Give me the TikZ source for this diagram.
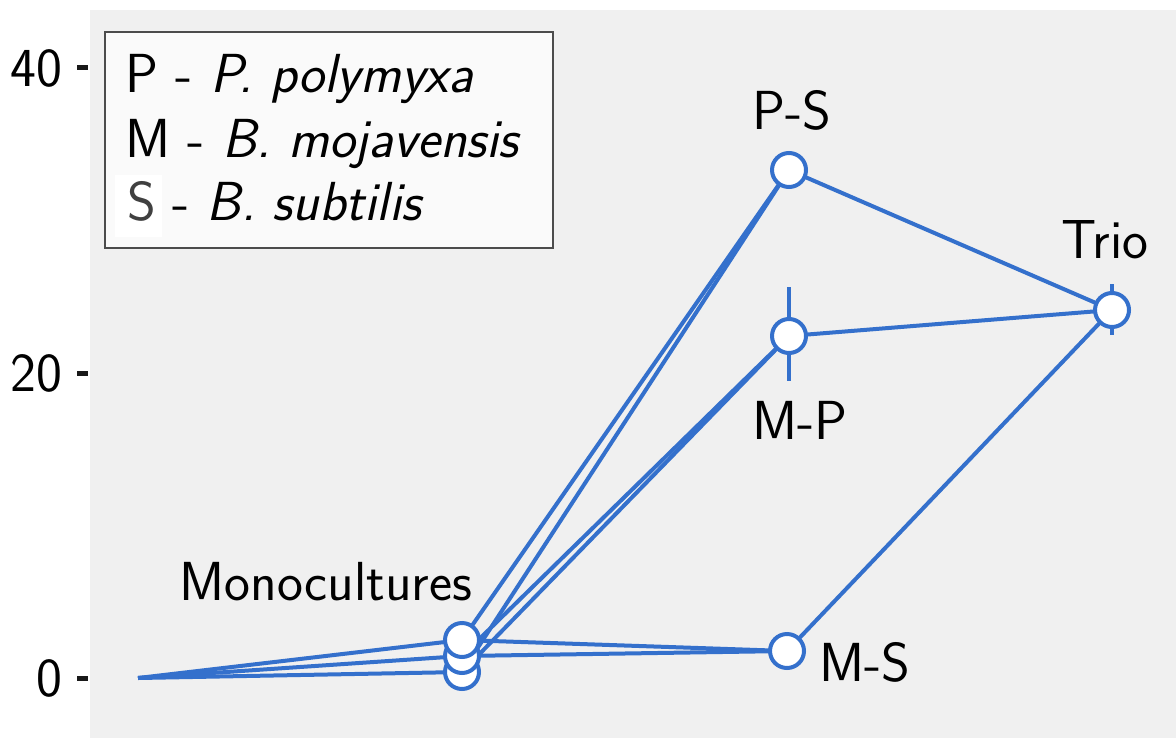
\documentclass[tikz,border=0pt]{standalone}
\usepackage{fontspec}
\usepackage{tikz}
\usetikzlibrary{backgrounds}
\definecolor{lineblue}{RGB}{52,112,204}
\definecolor{panelgray}{RGB}{240,240,240}

\begin{document}
\begin{tikzpicture}[
  x=0.5pt, y=-0.5pt, font=\sffamily\fontsize{27.5}{33}\selectfont,
  pt/.style={circle, draw=lineblue, line width=2pt, fill=white,
             minimum size=17pt, inner sep=0pt},
  ln/.style={lineblue, line width=2pt},
  lbl/.style={inner sep=0pt},
  tickmark/.style={line width=2.5pt, black!90}]
  \useasboundingbox (0,0) rectangle (1176,738);
  % y axis
  \foreach \v/\yy in {0/678, 20/373, 40/68} {
    \draw[tickmark] (77,\yy) -- (88,\yy);
    \node[lbl, anchor=east] (t\v) at (63,\yy) {\v};
  }
  % points
  \coordinate (o) at (138,678);
  \node[pt] (mP) at (462,672) {};
  \node[pt] (mM) at (462,656) {};
  \node[pt] (mS) at (462,640) {};
  \node[pt] (ps) at (789,170) {};
  \node[pt] (mp) at (789,336) {};
  \node[pt] (ms) at (787,651) {};
  \node[pt] (trio) at (1112,310) {};
  % labels
  \node[lbl] (lmono) at (326,582) {Monocultures};
  \node[lbl] (lps) at (792,110) {P-S};
  \node[lbl] (lmp) at (800,420) {M-P};
  \node[lbl] (lms) at (865,662) {M-S};
  \node[lbl] (ltrio) at (1105,240) {Trio};
  % legend
  \node[draw=black!70, fill=black!2, line width=1pt, minimum width=224pt,
        minimum height=108pt] (leg) at (329,140) {};
  \node[lbl, anchor=base west] (lgP) at (125,92) {P - \textit{P. polymyxa}};
  \node[lbl, anchor=base west] (lgM) at (125,157) {M - \textit{B. mojavensis}};
  \node[fill=white, minimum width=23.5pt, minimum height=31pt, inner sep=0pt] (sbg) at (138.5,206) {};
  \node[lbl, anchor=base, text=black!75] (lgS) at (142,220) {S};
  \node[lbl, anchor=base west] (lgS2) at (172,220) {- \textit{B. subtilis}};
  % panel, lines and error bars behind the points
  \begin{pgfonlayer}{background}
    \fill[panelgray] (90,10) rectangle (1176,738);
    \draw[ln] (mp.center) ++(0,-49) -- ++(0,94);
    \draw[ln] (trio.center) ++(0,-26) -- ++(0,51);
    \foreach \m in {mS, mM, mP} \draw[ln] (o) -- (\m.center);
    \draw[ln] (mP.center) -- (ps.center);
    \draw[ln] (mS.center) -- (ps.center);
    \draw[ln] (mP.center) -- (mp.center);
    \draw[ln] (mM.center) -- (mp.center);
    \draw[ln] (mS.center) -- (ms.center);
    \draw[ln] (mM.center) -- (ms.center);
    \foreach \a in {ps, mp, ms} \draw[ln] (\a.center) -- (trio.center);
  \end{pgfonlayer}
\end{tikzpicture}
\end{document}
